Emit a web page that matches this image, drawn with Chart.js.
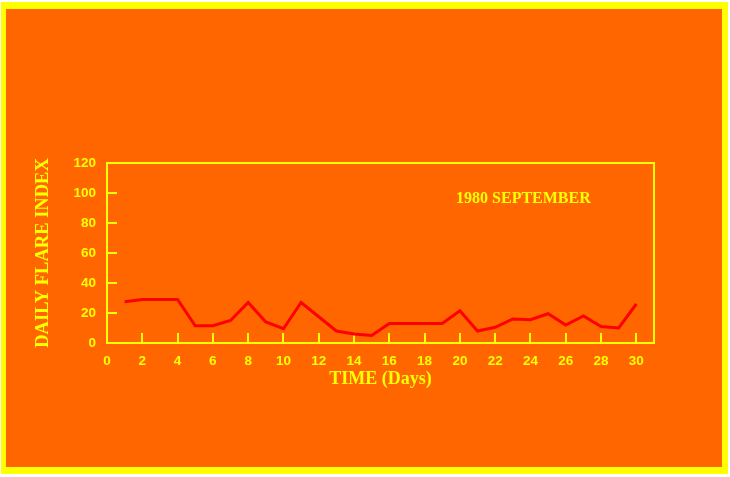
<!DOCTYPE html>
<html>
<head>
<meta charset="utf-8">
<script src="https://cdn.jsdelivr.net/npm/chart.js@4"></script>
<style>
  html, body { margin: 0; padding: 0; background: #ffffff; }
  canvas { display: block; }
</style>
</head>
<body>
<canvas id="flareChart" width="730" height="477"></canvas>
<script>
// September 1980 daily flare index
const days = [1, 2, 3, 4, 5, 6, 7, 8, 9, 10, 11, 12, 13, 14, 15,
              16, 17, 18, 19, 20, 21, 22, 23, 24, 25, 26, 27, 28, 29, 30];
const flareIndex = [27.5, 29, 29, 29, 11.5, 11.5, 15, 27, 14, 9.5, 27, 17.5, 8, 6, 5,
                    13, 13, 13, 13, 21.5, 8, 10.5, 16, 15.5, 19.5, 12, 18, 11, 10, 26];
const yTicks = [0, 20, 40, 60, 80, 100, 120];
const xTicks = [0, 2, 4, 6, 8, 10, 12, 14, 16, 18, 20, 22, 24, 26, 28, 30];

const yellow = "#ffff00";
const orange = "#ff6600";

const frame = {
    id: "frame",
    beforeDraw(chart) {
        const c = chart.ctx;
        c.save();
        c.fillStyle = "#ffffff";
        c.fillRect(0, 0, chart.width, chart.height);
        c.fillStyle = yellow;
        c.fillRect(1, 2, 727, 472);
        c.fillStyle = orange;
        c.fillRect(6, 9, 716, 458);
        c.restore();
    },
    afterDraw(chart) {
        const c = chart.ctx;
        const a = chart.chartArea;
        c.save();
        c.strokeStyle = yellow;
        c.lineWidth = 2;
        c.strokeRect(a.left, a.top, a.right - a.left, a.bottom - a.top);
        // label inside the plot
        const sx = chart.scales.x, sy = chart.scales.y;
        c.fillStyle = yellow;
        c.font = "bold 16px 'Liberation Serif'";
        c.textAlign = "center";
        c.textBaseline = "middle";
        c.fillText("1980 SEPTEMBER", sx.getPixelForValue(23.6), sy.getPixelForValue(96.3));
        c.restore();
    }
};

const ctx = document.getElementById("flareChart").getContext("2d");
new Chart(ctx, {
    type: "line",
    data: {
        datasets: [
            {
                data: days.map((d, i) => ({ x: d, y: flareIndex[i] })),
                borderColor: "#ff0000",
                borderWidth: 3,
                pointRadius: 0,
                tension: 0,
                fill: false,
            },
        ],
    },
    options: {
        responsive: false,
        animation: false,
        layout: { padding: { top: 163, right: 76, left: 0, bottom: 0 } },
        plugins: {
            legend: { display: false },
            tooltip: { enabled: false },
        },
        scales: {
            x: {
                type: "linear",
                min: 0,
                max: 31,
                afterFit(scale) { scale.height = 134; },
                afterBuildTicks(scale) { scale.ticks = xTicks.map(v => ({ value: v })); },
                border: { color: yellow, width: 2 },
                grid: { color: yellow, lineWidth: 2, drawOnChartArea: false, tickLength: -10 },
                ticks: {
                    color: yellow,
                    padding: 20,
                    maxRotation: 0,
                    autoSkip: false,
                    font: { family: "'Liberation Sans'", size: 13.5, weight: "bold" },
                },
                title: {
                    display: true,
                    text: "TIME (Days)",
                    color: yellow,
                    padding: { top: 0, bottom: 87 },
                    font: { family: "'Liberation Serif'", size: 18, weight: "bold" },
                },
            },
            y: {
                min: 0,
                max: 120,
                afterFit(scale) { scale.width = 107; },
                afterBuildTicks(scale) { scale.ticks = yTicks.map(v => ({ value: v })); },
                border: { color: yellow, width: 2 },
                grid: { color: yellow, lineWidth: 2, drawOnChartArea: false, tickLength: -10 },
                ticks: {
                    color: yellow,
                    padding: 21,
                    font: { family: "'Liberation Sans'", size: 13.5, weight: "bold" },
                },
                title: {
                    display: true,
                    text: "DAILY FLARE INDEX",
                    color: yellow,
                    padding: { top: 32, bottom: 0 },
                    font: { family: "'Liberation Serif'", size: 18.5, weight: "bold" },
                },
            },
        },
    },
    plugins: [frame],
});
</script>
</body>
</html>
